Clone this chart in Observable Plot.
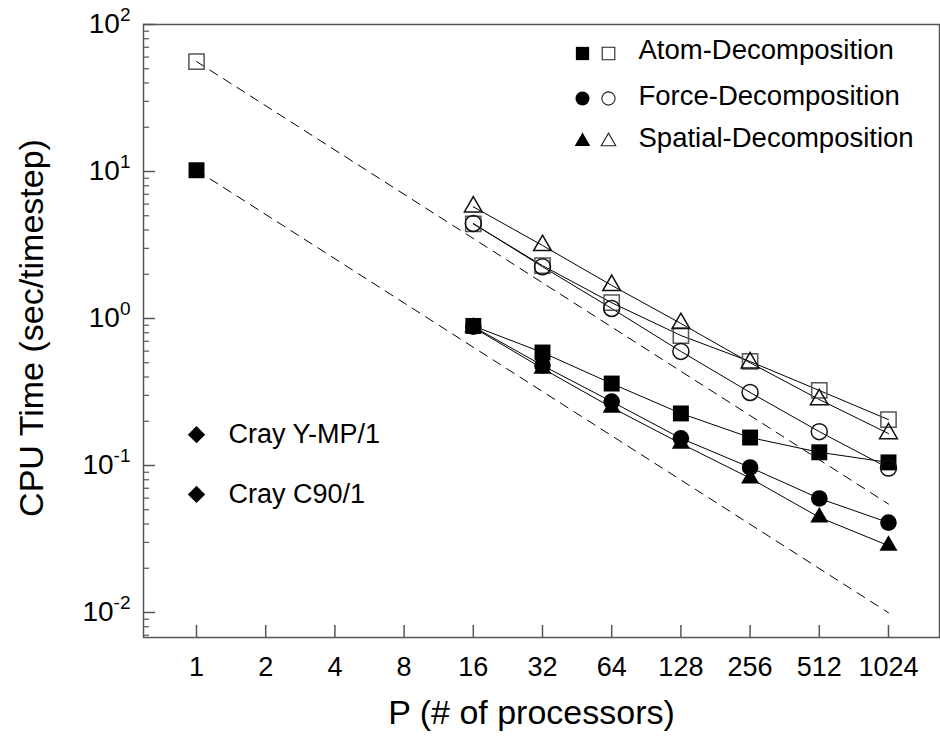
<!DOCTYPE html>
<html><head><meta charset="utf-8">
<script src="https://cdn.jsdelivr.net/npm/d3@7"></script>
<script src="https://cdn.jsdelivr.net/npm/@observablehq/plot@0.6"></script>
<style>
body{margin:0;background:#fff;}
#chart{width:940px;height:736px;}
</style></head><body><div id="chart"></div>
<script>
// ---- data ----
const processors = [16, 32, 64, 128, 256, 512, 1024];
const methods = ["Atom-Decomposition", "Force-Decomposition", "Spatial-Decomposition"];
const methodSymbols = ["square", "circle", "triangle"];
// filled markers (lower group)
const atomFilled    = [0.89, 0.587, 0.361, 0.226, 0.155, 0.123, 0.105];
const forceFilled   = [0.88, 0.479, 0.272, 0.153, 0.097, 0.0597, 0.0409];
const spatialFilled = [0.87, 0.457, 0.248, 0.141, 0.082, 0.0444, 0.0285];
// open markers (upper group)
const atomOpen    = [4.40, 2.29, 1.28, 0.766, 0.51, 0.324, 0.205];
const forceOpen   = [4.43, 2.25, 1.17, 0.597, 0.314, 0.170, 0.096];
const spatialOpen = [5.75, 3.14, 1.68, 0.925, 0.50, 0.281, 0.165];
// single-processor runs
const singleP = [1];
const singleOpen = [56];
const singleFilled = [10.2];
// ideal-scaling dashed lines (end points)
const idealP = [1, 1024];
const idealOpen = [56, 0.0547];
const idealFilled = [10.2, 0.00996];
// Cray single-processor references
const crayNames = ["Cray Y-MP/1", "Cray C90/1"];
const crayTimes = [0.162, 0.0636];
// ticks
const xTicks = [1, 2, 4, 8, 16, 32, 64, 128, 256, 512, 1024];
const yMajor = [0.01, 0.1, 1, 10, 100];
const yMinorMult = [2, 3, 4, 5, 6, 7, 8, 9];
const yMinor = [0.001, 0.01, 0.1, 1, 10].flatMap(d => yMinorMult.map(m => +(d * m).toPrecision(3))).filter(v => v >= 0.007 && v < 100);
const xLabel = "P (# of processors)";
const yLabel = "CPU Time (sec/timestep)";

// ---- build tidy rows ----
const filledSets = [atomFilled, forceFilled, spatialFilled];
const openSets = [atomOpen, forceOpen, spatialOpen];
const rows = [];
methods.forEach((m, i) => {
  processors.forEach((p, j) => {
    rows.push({method: m, filled: true, P: p, time: filledSets[i][j]});
    rows.push({method: m, filled: false, P: p, time: openSets[i][j]});
  });
});
const ideal = [];
idealP.forEach((p, j) => {
  ideal.push({set: "open", P: p, time: idealOpen[j]});
  ideal.push({set: "filled", P: p, time: idealFilled[j]});
});
const single = singleP.map((p, j) => ({P: p, open: singleOpen[j], filled: singleFilled[j]}));
const cray = crayNames.map((n, j) => ({name: n, P: 1, time: crayTimes[j]}));

const rFilled = {square: 9, circle: 8.3, triangle: 6.7};
const rOpen = {square: 8.6, circle: 8, triangle: 6.6};
const openStroke = {square: "#555", circle: "#111", triangle: "#111"};

const marks = [];
// frame and ticks (inward)
marks.push(Plot.frame({stroke: "#555", strokeWidth: 1.5}));
marks.push(Plot.tickX(xTicks, {x: d => d, insetTop: 613 - 12, stroke: "#555", strokeWidth: 1.5}));
marks.push(Plot.tickY(yMajor, {y: d => d, insetRight: 796 - 12, stroke: "#555", strokeWidth: 1.5}));
marks.push(Plot.tickY(yMinor, {y: d => d, insetRight: 796 - 6, stroke: "#555", strokeWidth: 1.2}));
// axes labels
marks.push(Plot.axisX(xTicks, {tickSize: 0, tickPadding: 19, fontSize: 27, label: null, tickFormat: d => String(d)}));
marks.push(Plot.axisY(yMajor, {tickSize: 0, tickPadding: 13, fontSize: 28, label: null, tickFormat: d => String(Math.round(Math.log10(d)))}));
marks.push(Plot.text([xLabel], {frameAnchor: "bottom", text: d => d, textAnchor: "middle", lineAnchor: "middle", dy: 76, dx: -10, fontSize: 34, fill: "#000"}));
marks.push(Plot.text([yLabel], {frameAnchor: "left", text: d => d, rotate: -90, textAnchor: "middle", lineAnchor: "middle", dx: -111, dy: -3, fontSize: 34, fill: "#000"}));
// ideal dashed lines
marks.push(Plot.line(ideal, {x: "P", y: "time", z: "set", stroke: "#000", strokeWidth: 1, strokeDasharray: "9,7"}));
// series lines
marks.push(Plot.line(rows, {x: "P", y: "time", z: d => d.method + (d.filled ? "f" : "o"), stroke: "#000", strokeWidth: 1}));
// markers
methods.forEach((m, i) => {
  const s = methodSymbols[i];
  marks.push(Plot.dot(rows.filter(d => d.method === m && !d.filled), {x: "P", y: "time", symbol: () => s, r: rOpen[s], fill: "none", stroke: openStroke[s], strokeWidth: 1.5}));
  marks.push(Plot.dot(rows.filter(d => d.method === m && d.filled), {x: "P", y: "time", symbol: () => s, r: rFilled[s], fill: "#000", stroke: "none"}));
});
marks.push(Plot.dot(single, {x: "P", y: "open", symbol: () => "square", r: rOpen.square, fill: "none", stroke: "#555", strokeWidth: 1.5}));
marks.push(Plot.dot(single, {x: "P", y: "filled", symbol: () => "square", r: rFilled.square, fill: "#000"}));
// Cray references
marks.push(Plot.dot(cray, {x: "P", y: "time", symbol: () => "diamond2", r: 7.8, fill: "#000"}));
marks.push(Plot.text(cray, {x: "P", y: "time", text: "name", dx: 32, textAnchor: "start", lineAnchor: "middle", fontSize: 27, fill: "#000"}));
// legend (top-right, inside the frame)
const legendDotDy = [29, 74, 117];
const legendTextDy = [26, 72, 114];
const legendR = {square: 7.5, circle: 7, triangle: 5.8};
methods.forEach((m, i) => {
  const s = methodSymbols[i];
  marks.push(Plot.dot([m], {frameAnchor: "top-left", dx: 439, dy: legendDotDy[i], symbol: () => s, r: legendR[s], fill: "#000"}));
  marks.push(Plot.dot([m], {frameAnchor: "top-left", dx: 465, dy: legendDotDy[i], symbol: () => s, r: legendR[s] - 0.4, fill: "none", stroke: "#222", strokeWidth: 1.1}));
  marks.push(Plot.text([m], {frameAnchor: "top-left", dx: 495, dy: legendTextDy[i], text: d => d, textAnchor: "start", lineAnchor: "middle", fontSize: 27.5, fill: "#000"}));
});

const chart = Plot.plot({
  width: 940,
  height: 736,
  marginLeft: 143,
  marginRight: 1,
  marginTop: 24,
  marginBottom: 99,
  style: {fontFamily: "'Liberation Sans', Arial, Helvetica, sans-serif", background: "#fff", color: "#000"},
  x: {type: "log", base: 2, domain: [0.588, 1707], label: null},
  y: {type: "log", domain: [0.00676, 100], label: null},
  symbol: {type: "identity"},
  marks
});
document.getElementById("chart").appendChild(chart);

// superscript exponents on y tick labels
d3.select(chart).selectAll('g[aria-label="y-axis tick label"] text').each(function() {
  const e = this.textContent;
  const t = d3.select(this);
  t.text("10").attr("fill", "#000");
  t.append("tspan").attr("dy", -12).attr("font-size", 19).text(e);
});
d3.select(chart).selectAll('g[aria-label="x-axis tick label"] text').attr("fill", "#000");
</script>
</body></html>
